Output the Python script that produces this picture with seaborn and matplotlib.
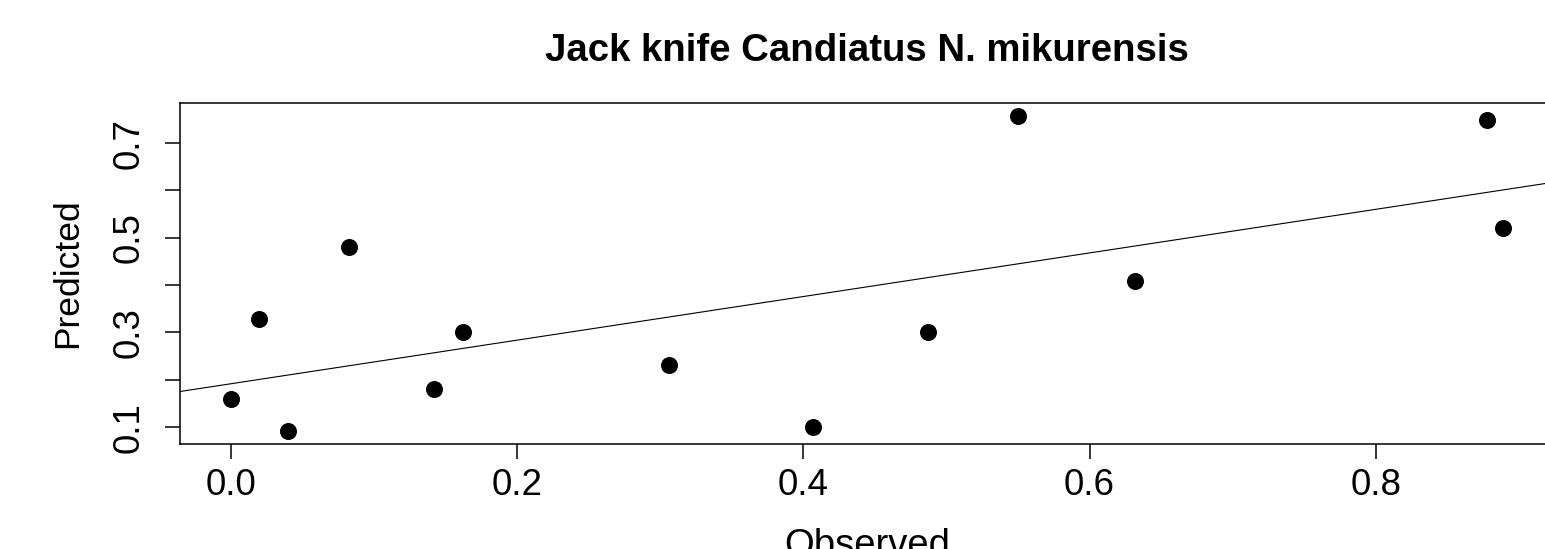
import numpy as np
import matplotlib
matplotlib.use("Agg")
import matplotlib.pyplot as plt
import seaborn as sns

# values
observed = [0.0, 0.0196, 0.040, 0.0826, 0.142, 0.162, 0.306, 0.407, 0.487, 0.550, 0.632, 0.8775, 0.889]
predicted = [0.160, 0.328, 0.091, 0.481, 0.180, 0.300, 0.231, 0.100, 0.300, 0.758, 0.409, 0.748, 0.521]

x_ticks = [0.0, 0.2, 0.4, 0.6, 0.8]
y_ticks = [0.1, 0.2, 0.3, 0.4, 0.5, 0.6, 0.7]
y_labels = ["0.1", "", "0.3", "", "0.5", "", "0.7"]

sns.set_theme(style="white")
plt.rcParams["font.family"] = ["Liberation Sans", "DejaVu Sans"]
plt.rcParams["axes.edgecolor"] = "black"
plt.rcParams["axes.linewidth"] = 1.1
plt.rcParams["text.color"] = "black"
plt.rcParams["axes.labelcolor"] = "black"
plt.rcParams["xtick.color"] = "black"
plt.rcParams["ytick.color"] = "black"

fig = plt.figure(figsize=(15.45, 5.49), dpi=100)
ax = fig.add_axes([180 / 1545, 105 / 549, 1374 / 1545, 341 / 549])

# R style 4% padding around the data range
xr = max(observed) - min(observed)
yr = max(predicted) - min(predicted)
ax.set_xlim(min(observed) - 0.04 * xr, max(observed) + 0.04 * xr)
ax.set_ylim(min(predicted) - 0.04 * yr, max(predicted) + 0.04 * yr)

sns.regplot(x=observed, y=predicted, ax=ax, scatter=False, ci=None, truncate=False,
            line_kws={"color": "black", "lw": 0.8})
sns.scatterplot(x=observed, y=predicted, ax=ax, s=150, color="black", edgecolor="black",
                linewidth=0, zorder=3)

ax.set_xticks(x_ticks)
ax.set_xticklabels([f"{t:.1f}" for t in x_ticks])
ax.set_yticks(y_ticks)
ax.set_yticklabels(y_labels, rotation=90, va="center")
ax.tick_params(axis="both", which="major", direction="out", length=11, width=1.1,
               color="black", labelsize=26.5, labelcolor="black", bottom=True, left=True)
ax.tick_params(axis="x", pad=6)
ax.tick_params(axis="y", pad=13)

ax.set_xlabel("Observed", fontsize=27.5)
ax.set_ylabel("Predicted", fontsize=25.5)
ax.xaxis.set_label_coords(0.5, -0.245)
ax.yaxis.set_label_coords(-0.070, 0.5)
ax.set_title("Jack knife Candiatus N. mikurensis", fontsize=27.6, fontweight="bold", pad=30)

fig.savefig("out.png", dpi=100)
